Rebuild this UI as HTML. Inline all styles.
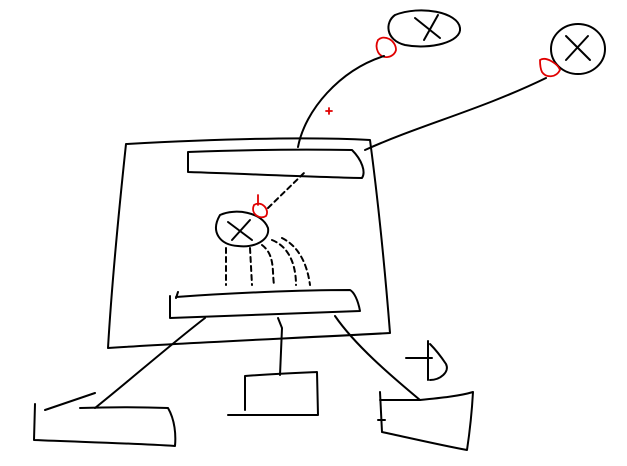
<!DOCTYPE html>
<html><head><meta charset="utf-8"><style>
html,body{margin:0;padding:0;background:#fff;width:627px;height:466px;overflow:hidden}
svg{display:block}
path,ellipse,line{fill:none;stroke:#000;stroke-width:2;stroke-linecap:round;stroke-linejoin:round}
.r{stroke:#e00000;stroke-width:1.8}
.d{stroke-dasharray:5 4}
</style></head><body>
<svg width="627" height="466" viewBox="0 0 627 466">
<g>
<path d="M126,144 C200,140 300,136 370,140 C378,200 385,270 390,333 C300,338 200,342 108,348 C112,280 120,200 126,144 Z"/>
</g>
<path d="M188,152 L188,172 C250,174 310,177 362,178 C366,172 362,160 352,150 C300,149 240,150 188,152"/>
<path d="M176,298 L178,292 M170,296 L170,318 C230,316 300,313 360,311 C358,300 354,292 350,290 C300,290 230,293 176,297"/>
<g>
<path d="M220,215 C235,208 262,212 268,228 C270,240 255,248 238,246 C220,245 210,232 220,215 Z"/>
<path d="M228,222 L252,240 M250,220 L232,240"/>
</g>
<path class="r" d="M254,205 C262,200 270,210 266,216 C260,220 250,214 254,205 M258,195 L258,205"/>
<path class="d" d="M268,208 L305,172"/>
<path class="d" d="M226,248 L226,285 M250,248 L252,285 M262,245 C275,255 272,270 274,285 M272,240 C292,248 296,270 296,285 M282,238 C302,248 308,270 310,285"/>
<g>
<path d="M395,15 C420,5 458,12 460,28 C462,42 430,50 405,45 C385,40 385,22 395,15 Z"/>
<path d="M415,18 L440,38 M438,15 L424,40"/>
</g>
<g>
<ellipse cx="578" cy="49" rx="27" ry="25"/>
<path d="M566,36 L590,60 M588,36 L566,60"/>
</g>
<path class="r" d="M378,40 C384,34 396,40 396,50 C394,58 382,60 378,52 C376,48 376,44 378,40"/>
<path class="r" d="M540,60 C546,56 558,64 560,70 C556,78 546,78 542,72 C540,68 540,64 540,60"/>
<path class="r" d="M326,111 L332,111 M329,108 L329,114"/>
<path d="M384,56 C340,70 305,110 298,147"/>
<path d="M546,78 C480,110 420,125 365,150"/>
<path d="M205,318 C170,345 130,380 95,408"/>
<path d="M278,318 L282,328 L280,375"/>
<path d="M335,316 C355,345 390,375 420,400"/>
<path d="M35,404 L34,440 C80,442 130,443 175,446 C176,435 175,420 168,408 C140,407 110,407 80,408 M45,410 L95,393"/>
<path d="M245,376 L245,410 M245,376 C270,374 295,373 317,372 L318,415 L228,415"/>
<path d="M380,392 L382,432 M380,400 L420,400 C440,398 460,396 473,392 C472,410 470,430 467,450 C440,445 410,438 382,432 M378,420 L385,420"/>
<path d="M428,341 L428,380 M406,358 L432,358 M430,344 C438,352 442,358 446,364 C450,372 440,380 430,380"/>
</svg>
</body></html>
